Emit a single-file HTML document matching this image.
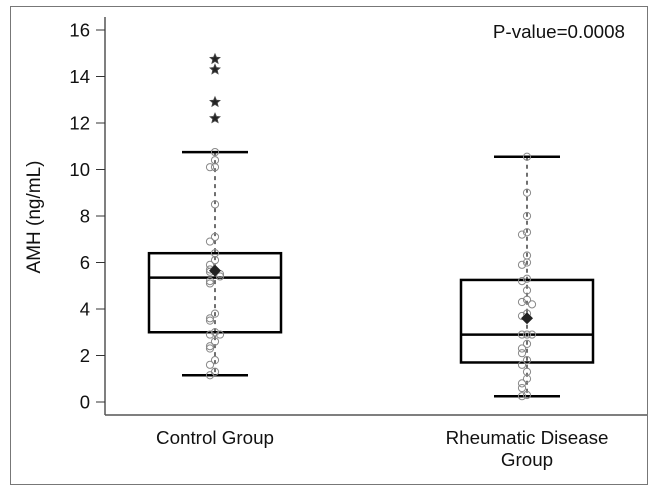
<!DOCTYPE html>
<html><head><meta charset="utf-8"><style>
html,body{margin:0;padding:0;background:#fff}
svg{display:block;font-family:"Liberation Sans",Arial,sans-serif}
</style></head><body>
<svg id="chart" width="662" height="494" viewBox="0 0 662 494">
<rect x="10.5" y="6.5" width="637" height="478" fill="none" stroke="#777" stroke-width="1"/>
<g id="axes"></g>
<g id="marks"></g>
<text x="625" y="38" font-size="18.8" text-anchor="end" fill="#111">P-value=0.0008</text>
<text transform="translate(40,217) rotate(-90)" font-size="19" text-anchor="middle" fill="#111">AMH (ng/mL)</text>
</svg>
<script>
const categories = ["Control Group", "Rheumatic Disease|Group"];
const yTicks = [0,2,4,6,8,10,12,14,16];
const q1 = [3.0, 1.7];
const medians = [5.35, 2.9];
const q3 = [6.4, 5.25];
const whiskLow = [1.15, 0.25];
const whiskHigh = [10.75, 10.55];
const means = [5.65, 3.6];
const outliers = [[14.75, 14.3, 12.9, 12.2], []];
const controlPoints = [10.75,10.4,10.1,10.1,8.5,7.1,6.9,6.4,6.1,5.9,5.7,5.6,5.5,5.4,5.2,5.1,3.8,3.6,3.5,3.0,2.9,2.9,2.6,2.4,2.3,1.8,1.6,1.3,1.15];
const rheumPoints = [10.55,9.0,8.0,7.3,7.2,6.3,6.0,5.9,5.3,5.2,4.8,4.4,4.3,4.2,3.8,3.7,2.9,2.9,2.9,2.5,2.3,2.1,1.8,1.6,1.3,1.0,0.8,0.6,0.3,0.25];

const NS = "http://www.w3.org/2000/svg";
const y = v => 402 - v * (372/16);
const xc = i => 215 + i * 312;
const BW = 66, CW = 33;
function mk(tag, attrs, parent){const e=document.createElementNS(NS,tag);for(const k in attrs)e.setAttribute(k,attrs[k]);parent.appendChild(e);return e;}
const axes=document.getElementById('axes'), marks=document.getElementById('marks');

let a=mk('line',{x1:105,y1:17,x2:105,y2:415,stroke:'#555','stroke-width':1.5},axes);


a=mk('line',{x1:105,y1:415,x2:647,y2:415,stroke:'#555','stroke-width':1.5},axes);


yTicks.forEach(t=>{
  const l=mk('line',{x1:96,y1:y(t),x2:105,y2:y(t),stroke:'#333','stroke-width':1},axes);
  
  
  const tx=mk('text',{x:90,y:y(t)+6.5,'font-size':18.5,'text-anchor':'end',fill:'#111'},axes);
  tx.textContent=t;
  
  
});
categories.forEach((c,i)=>{
  c.split('|').forEach((ln,j)=>{
    const tx=mk('text',{x:xc(i),y:444+j*22,'font-size':18.8,'text-anchor':'middle',fill:'#111'},axes);
    tx.textContent=ln;
    
    
  });
});
const pts=[controlPoints,rheumPoints];
categories.forEach((c,i)=>{
  const cx=xc(i);
  let e=mk('line',{x1:cx,y1:y(whiskHigh[i]),x2:cx,y2:y(whiskLow[i]),stroke:'#222','stroke-width':1.3,'stroke-dasharray':'4,4'},marks);
  
  
  [whiskLow[i],whiskHigh[i]].forEach(v=>{
    const cap=mk('line',{x1:cx-CW,y1:y(v),x2:cx+CW,y2:y(v),stroke:'#000','stroke-width':2.5},marks);
    
    
  });
  e=mk('rect',{x:cx-BW,y:y(q3[i]),width:2*BW,height:y(q1[i])-y(q3[i]),fill:'none',stroke:'#000','stroke-width':2.5},marks);
  
  
  e=mk('line',{x1:cx-BW,y1:y(medians[i]),x2:cx+BW,y2:y(medians[i]),stroke:'#000','stroke-width':2.5},marks);
  
  
  const seen=[];
  pts[i].forEach(v=>{
    const n=seen.filter(s=>Math.abs(s-v)<0.25).length; seen.push(v);
    const off=n===0?0:(n%2?-1:1)*Math.ceil(n/2)*5;
    const p=mk('circle',{cx:cx+off,cy:y(v),r:3.6,fill:'none',stroke:'#888','stroke-width':1},marks);
    
    
  });
  const my=y(means[i]);
  e=mk('polygon',{points:`${cx},${my-6} ${cx+6},${my} ${cx},${my+6} ${cx-6},${my}`,fill:'#222'},marks);
  
  
  outliers[i].forEach(v=>{
    const oy=y(v), r=5, ri=2.3; let s='';
    for(let k=0;k<10;k++){const ang=-Math.PI/2+k*Math.PI/5;const rr=k%2?ri:r;s+=`${cx+rr*Math.cos(ang)},${oy+rr*Math.sin(ang)} `;}
    const st=mk('polygon',{points:s,fill:'#222',stroke:'#444','stroke-width':1},marks);
    
    
  });
});
</script>
</body></html>
